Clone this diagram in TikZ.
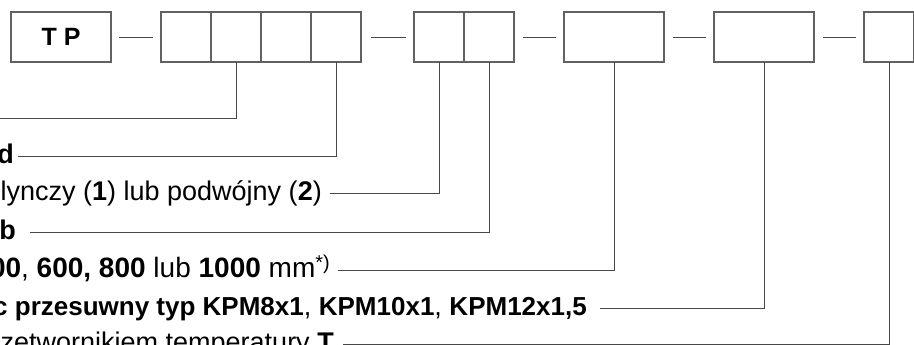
\documentclass[tikz,border=0pt]{standalone}
\usepackage{fontspec}
\setmainfont{Liberation Sans}
\newcommand{\bt}[1]{{\fontsize{27}{30}\selectfont\bfseries #1}}
\newcommand{\bs}[1]{{\fontsize{26}{30}\selectfont\bfseries #1}}
\newcommand{\bw}[1]{{\fontsize{28}{30}\selectfont\bfseries #1}}
\begin{document}
\begin{tikzpicture}[x=1pt,y=-1pt,
  cell/.style={draw=black!62,line width=1.1pt,minimum height=50pt,inner sep=0pt,outer sep=0pt},
  conn/.style={draw=black!72,line width=0.9pt},
  lbl/.style={font=\fontsize{27}{30}\selectfont,inner sep=0pt,anchor=base east}]
\useasboundingbox (0,0) rectangle (914,345);
% boxes
\node[cell,minimum width=100pt,font=\fontsize{25}{30}\selectfont\bfseries] (tp) at (61,37) {T P};
\node[cell,minimum width=50pt] (a1) at (186,37) {};
\node[cell,minimum width=50pt] (a2) at (236,37) {};
\node[cell,minimum width=50pt] (a3) at (286,37) {};
\node[cell,minimum width=50pt] (a4) at (336,37) {};
\node[cell,minimum width=50pt] (b1) at (439,37) {};
\node[cell,minimum width=50pt] (b2) at (489,37) {};
\node[cell,minimum width=100pt] (c) at (614,37) {};
\node[cell,minimum width=100pt] (d) at (764,37) {};
\node[cell,minimum width=50pt] (e) at (889,37) {};
% dashes
\draw[conn] ([xshift=8pt]tp.east) -- ([xshift=-8pt]a1.west);
\draw[conn] ([xshift=10pt]a4.east) -- ([xshift=-8pt]b1.west);
\draw[conn] ([xshift=9pt]b2.east) -- ([xshift=-8pt]c.west);
\draw[conn] ([xshift=9pt]c.east) -- ([xshift=-8pt]d.west);
\draw[conn] ([xshift=9pt]d.east) -- ([xshift=-8pt]e.west);
% connector ends
\coordinate (e1) at (0,118);
\coordinate (e2) at (18,156);
\coordinate (e3) at (330,193);
\coordinate (e4) at (30,232);
\coordinate (e5) at (338,270);
\coordinate (e6) at (600,308);
\coordinate (e7) at (343,344);
% labels
\node[lbl] (t2) at (14,163) {\bt{d}};
\node[lbl] (t3) at (322,200) {lynczy (\bt{1}) lub podwójny (\bt{2})};
\node[lbl] (t4) at (16,239) {\bt{b}};
\node[lbl,font=\fontsize{28}{30}\selectfont] (t5) at (330,277) {\bw{00}, \bw{600, 800} lub \bw{1000} mm\raisebox{8pt}{\fontsize{20}{22}\selectfont *)}};
\node[lbl] (t6) at (587,315) {\bs{c przesuwny typ KPM8x1}, \bs{KPM10x1}, \bs{KPM12x1,5}};
\node[lbl] (t7) at (334,351) {zetwornikiem temperatury \bt{T}};
% connectors
\draw[conn] (a2.south) |- (e1);
\draw[conn] (a4.south) |- (e2);
\draw[conn] (b1.south) |- (e3);
\draw[conn] (b2.south) |- (e4);
\draw[conn] (c.south) |- (e5);
\draw[conn] (d.south) |- (e6);
\draw[conn] (e.south) |- (e7);
\end{tikzpicture}
\end{document}
